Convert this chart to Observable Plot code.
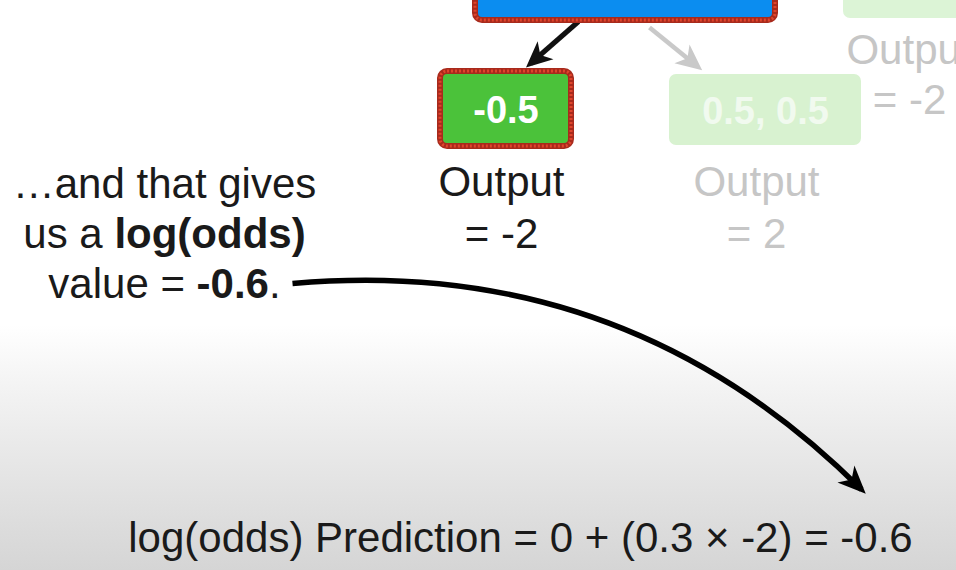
<!DOCTYPE html>
<html>
<head>
<meta charset="utf-8">
<script src="https://cdn.jsdelivr.net/npm/d3@7"></script>
<script src="https://cdn.jsdelivr.net/npm/@observablehq/plot@0.6"></script>
<style>
  html, body { margin: 0; padding: 0; background: #fff; }
  #chart svg { display: block; }
</style>
</head>
<body>
<div id="chart"></div>
<script>
// ---- diagram content ----
// tree nodes: boxes with fill and optional label
const nodeIds    = ["root", "leftLeaf", "rightLeaf", "farLeaf"];
const nodeLabels = ["", "-0.5", "0.5, 0.5", ""];
const nodeFills  = ["#0b8df0", "#4bc23a", "#d8f2d0", "#dcf4d6"];
const nodeActive = [true, true, false, false];
const nodeX1 = [475, 440, 669, 843];
const nodeX2 = [775, 571, 861, 1000];
const nodeY1 = [-40, 71, 74, -40];
const nodeY2 = [20, 146, 145, 18];

// output annotations under / beside leaves
const outputTitles = ["Output", "Output", "Output"];
const outputValues = ["= -2", "= 2", "= -2"];
const outputActive = [true, false, false];
const outputX      = [501, 756, 909];
const outputTitleY = [195, 195, 63];
const outputValueY = [247, 247, 113];

// branch arrows from the root (start, end of shaft)
const branchFrom   = [[578, 21], [649, 27]];
const branchTo     = [[530, 63], [697, 66]];
const branchActive = [true, false];

// narrative text
const noteLines = ["…and that gives", "us a **log(odds)**", "value = **-0.6**."];
const noteX = 164;
const noteY = [197, 247, 297];

// curved arrow from the note to the formula (start, end of shaft)
const curveFrom = [292, 283];
const curveTo   = [861, 489];

// formula
const formula  = "log(odds) Prediction = 0 + (0.3 × -2) = -0.6";
const formulaX = 520;
const formulaY = 551;

// ---- build tables ----
const nodes = nodeIds.map((id, i) => ({
  id, label: nodeLabels[i], fill: nodeFills[i], active: nodeActive[i],
  x1: nodeX1[i], x2: nodeX2[i], y1: nodeY1[i], y2: nodeY2[i],
  cx: (nodeX1[i] + nodeX2[i]) / 2
}));
const outputs = outputTitles.map((t, i) => ({
  title: t, value: outputValues[i], active: outputActive[i],
  x: outputX[i], ty: outputTitleY[i], vy: outputValueY[i]
}));
const branches = branchFrom.map((f, i) => ({
  x1: f[0], y1: f[1], x2: branchTo[i][0], y2: branchTo[i][1], active: branchActive[i]
}));
const notes = noteLines.map((t, i) => ({text: t, x: noteX, y: noteY[i]}));
const curveLinks = [{x1: curveFrom[0], y1: curveFrom[1], x2: curveTo[0], y2: curveTo[1]}];

const FONT = "'Liberation Sans', Arial, Helvetica, sans-serif";

// render hook: **bold** segments become bold tspans
function richText(index, scales, values, dimensions, context, next) {
  const g = next(index, scales, values, dimensions, context);
  d3.select(g).selectAll("text").each(function () {
    const t = this.textContent;
    if (!t.includes("**")) return;
    const parts = t.split("**");
    this.textContent = "";
    parts.forEach((p, i) => {
      if (!p) return;
      const ts = document.createElementNS("http://www.w3.org/2000/svg", "tspan");
      ts.textContent = p;
      if (i % 2) ts.setAttribute("font-weight", "bold");
      this.appendChild(ts);
    });
  });
  return g;
}

// filled, notched arrowhead marker (absolute pixel size)
function filledArrow(len, half, notch, tip) {
  return (color) => {
    const w = len + tip + 4, h = 2 * half + 4;
    const m = d3.create("svg:marker")
      .attr("viewBox", `${-len - 2} ${-half - 2} ${w} ${h}`)
      .attr("refX", 0).attr("refY", 0)
      .attr("markerWidth", w)
      .attr("markerHeight", h)
      .attr("markerUnits", "userSpaceOnUse")
      .attr("orient", "auto")
      .attr("overflow", "visible")
      .attr("fill", color)
      .attr("stroke", "none");
    m.append("path").attr("d",
      `M${tip},0L${-len + tip},${-half}L${-len + tip + notch},0L${-len + tip},${half}Z`);
    return m.node();
  };
}

// curve factory: quadratic arc that leaves the chord at a given angle
function bendCurve(deg) {
  const k = Math.tan(deg * Math.PI / 180);
  return (ctx) => {
    let pts = [];
    return {
      lineStart() { pts = []; },
      point(x, y) { pts.push([+x, +y]); },
      lineEnd() {
        if (pts.length < 2) return;
        const [[xa, ya], [xb, yb]] = [pts[0], pts[pts.length - 1]];
        const dx = xb - xa, dy = yb - ya, L = Math.hypot(dx, dy);
        const h = (L / 2) * k;
        const cx = (xa + xb) / 2 + h * (dy / L);
        const cy = (ya + yb) / 2 - h * (dx / L);
        ctx.moveTo(xa, ya);
        ctx.quadraticCurveTo(cx, cy, xb, yb);
      },
      areaStart() {}, areaEnd() {}
    };
  };
}

const labelNodes = nodes.filter(d => d.label);

const chart = Plot.plot({
  width: 956,
  height: 570,
  margin: 0,
  x: {domain: [0, 956], range: [0, 956], axis: null},
  y: {domain: [0, 570], range: [0, 570], axis: null},
  color: {type: "identity"},
  style: {
    background: "linear-gradient(to bottom, #ffffff 0%, #ffffff 57%, #f3f3f3 68%, #e4e4e4 84%, #d5d5d5 100%)",
    fontFamily: FONT,
    overflow: "hidden"
  },
  marks: [
    // branch arrows
    Plot.link(branches.filter(d => !d.active), {
      x1: "x1", y1: "y1", x2: "x2", y2: "y2",
      stroke: "#c9c9c9", strokeWidth: 4.5,
      markerEnd: filledArrow(26, 12, 7, 6)
    }),
    Plot.link(branches.filter(d => d.active), {
      x1: "x1", y1: "y1", x2: "x2", y2: "y2",
      stroke: "#111111", strokeWidth: 5,
      markerEnd: filledArrow(26, 12, 7, 6)
    }),
    // node boxes
    Plot.rect(nodes, {
      x1: "x1", x2: "x2", y1: "y1", y2: "y2",
      fill: "fill", rx: 7
    }),
    // rough red outline on the active path
    Plot.rect(nodes.filter(d => d.active), {
      x1: "x1", x2: "x2", y1: "y1", y2: "y2",
      fill: "none", stroke: "#a82a1c", strokeWidth: 6, rx: 7
    }),
    Plot.rect(nodes.filter(d => d.active), {
      x1: "x1", x2: "x2", y1: "y1", y2: "y2",
      fill: "none", stroke: "#e0452c", strokeWidth: 3, strokeDasharray: "2 2", rx: 7
    }),
    // node labels
    Plot.text(labelNodes, {
      x: "cx", y: d => (d.y1 + d.y2) / 2, text: "label",
      fill: d => d.active ? "#ffffff" : "#f1faef",
      fontSize: 38, fontWeight: "bold", lineAnchor: "middle", dy: 2
    }),
    // output annotations
    Plot.text(outputs, {
      x: "x", y: "ty", text: "title",
      fill: d => d.active ? "#1a1a1a" : "#c6c6c6",
      fontSize: 42, lineAnchor: "bottom"
    }),
    Plot.text(outputs, {
      x: "x", y: "vy", text: "value",
      fill: d => d.active ? "#1a1a1a" : "#c6c6c6",
      fontSize: 42, lineAnchor: "bottom"
    }),
    // narrative note
    Plot.text(notes, {
      x: "x", y: "y", text: "text",
      fill: "#1a1a1a", fontSize: 42, lineAnchor: "bottom",
      render: richText
    }),
    // curved arrow
    Plot.link(curveLinks, {
      x1: "x1", y1: "y1", x2: "x2", y2: "y2",
      stroke: "#000000", strokeWidth: 5.5,
      curve: bendCurve(25),
      markerEnd: filledArrow(28, 12, 8, 6)
    }),
    // formula
    Plot.text([{text: formula, x: formulaX, y: formulaY}], {
      x: "x", y: "y", text: "text",
      fill: "#1a1a1a", fontSize: 42, lineAnchor: "bottom"
    })
  ]
});

document.getElementById("chart").appendChild(chart);
</script>
</body>
</html>
